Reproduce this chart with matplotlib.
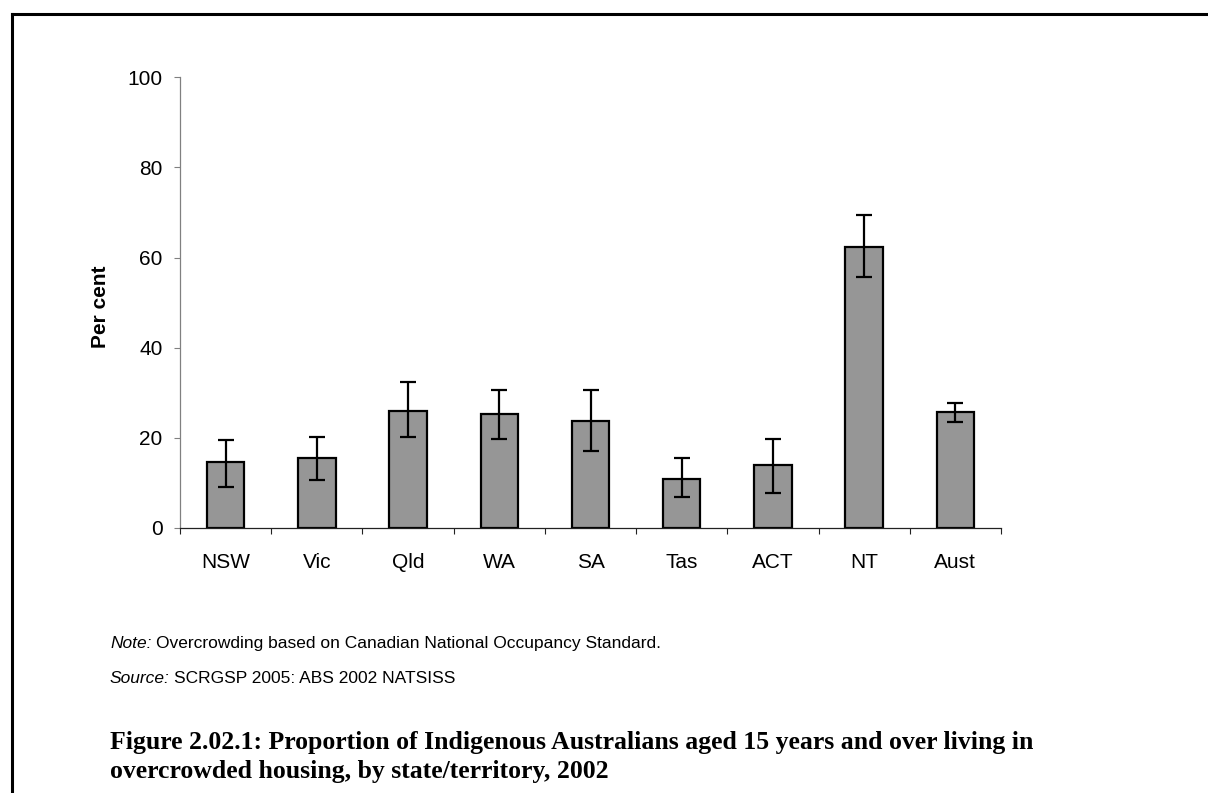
import matplotlib
matplotlib.use("Agg")
import matplotlib.pyplot as plt
import numpy as np

# values (per cent), with lower/upper error-bar ends
states = ["NSW", "Vic", "Qld", "WA", "SA", "Tas", "ACT", "NT", "Aust"]
pct = [14.6, 15.4, 26.0, 25.2, 23.8, 10.9, 14.0, 62.4, 25.6]
err_low = [9.1, 10.5, 20.2, 19.8, 17.1, 6.9, 7.8, 55.7, 23.4]
err_high = [19.4, 20.2, 32.3, 30.5, 30.5, 15.4, 19.8, 69.5, 27.8]
yticks = [0, 20, 40, 60, 80, 100]

BAR_GRAY = "#969696"
AXIS_GRAY = "#808080"
W, H = 1208, 793

plt.rcParams["font.family"] = ["Liberation Sans", "DejaVu Sans"]

fig = plt.figure(figsize=(W / 100, H / 100), dpi=100)
ax = fig.add_axes([180 / W, 1 - 527.8 / H, (1001 - 180) / W, (527.8 - 77.3) / H])

x = np.arange(len(states))
lower = np.array(pct) - np.array(err_low)
upper = np.array(err_high) - np.array(pct)
ax.bar(x, pct, width=0.41, color=BAR_GRAY, edgecolor="black", linewidth=1.6, zorder=2)
ax.errorbar(x, pct, yerr=[lower, upper], fmt="none", ecolor="black", elinewidth=1.6,
            capsize=5.5, capthick=1.6, zorder=3)

ax.set_xlim(-0.5, len(states) - 0.5)
ax.set_ylim(0, 100)
ax.set_yticks(yticks)
ax.tick_params(axis="y", direction="out", length=4.5, width=0.8, color=AXIS_GRAY,
               labelsize=15, pad=8)

# category boundaries get the tick marks, labels sit at the bar centres
ax.set_xticks(np.arange(len(states) + 1) - 0.5)
ax.set_xticklabels([])
ax.set_xticks(x, minor=True)
ax.set_xticklabels(states, minor=True)
ax.tick_params(axis="x", which="major", direction="out", length=4.5, width=0.8, color="#222222")
ax.tick_params(axis="x", which="minor", length=0, labelsize=15, pad=18)

ax.spines[["top", "right"]].set_visible(False)
ax.spines["left"].set_color(AXIS_GRAY)
ax.spines["bottom"].set_color("#222222")
ax.spines["left"].set_linewidth(0.9)
ax.spines["bottom"].set_linewidth(0.9)

fig.text(100 / W, 1 - 307 / H, "Per cent", rotation=90, ha="center", va="center",
         fontsize=15, fontweight="bold")

# note and source lines: italic lead-in, plain remainder on the same baseline
renderer = fig.canvas.get_renderer()
for y_px, lead, rest in [(648, "Note:", "Overcrowding based on Canadian National Occupancy Standard."),
                         (683, "Source:", "SCRGSP 2005: ABS 2002 NATSISS")]:
    t = fig.text(110 / W, 1 - y_px / H, lead, style="italic", fontsize=12.5, va="baseline")
    x_end = t.get_window_extent(renderer).x1
    fig.text((x_end + 4.5) / W, 1 - y_px / H, rest, fontsize=12.5, va="baseline")

fig.text(110 / W, 1 - 757 / H,
         "Figure 2.02.1: Proportion of Indigenous Australians aged 15 years and over living in\n"
         "overcrowded housing, by state/territory, 2002",
         family=["Liberation Serif", "DejaVu Serif"], fontweight="bold", fontsize=18.5,
         va="center", ha="left", linespacing=1.3)

# frame lines along the top and left edges of the page
fig.add_artist(plt.Line2D([12 / W, 12 / W], [0, 1 - 14 / H], color="black", linewidth=2.2))
fig.add_artist(plt.Line2D([12 / W, 1], [1 - 14 / H, 1 - 14 / H], color="black", linewidth=2.2))

fig.savefig("out.png", dpi=100)
